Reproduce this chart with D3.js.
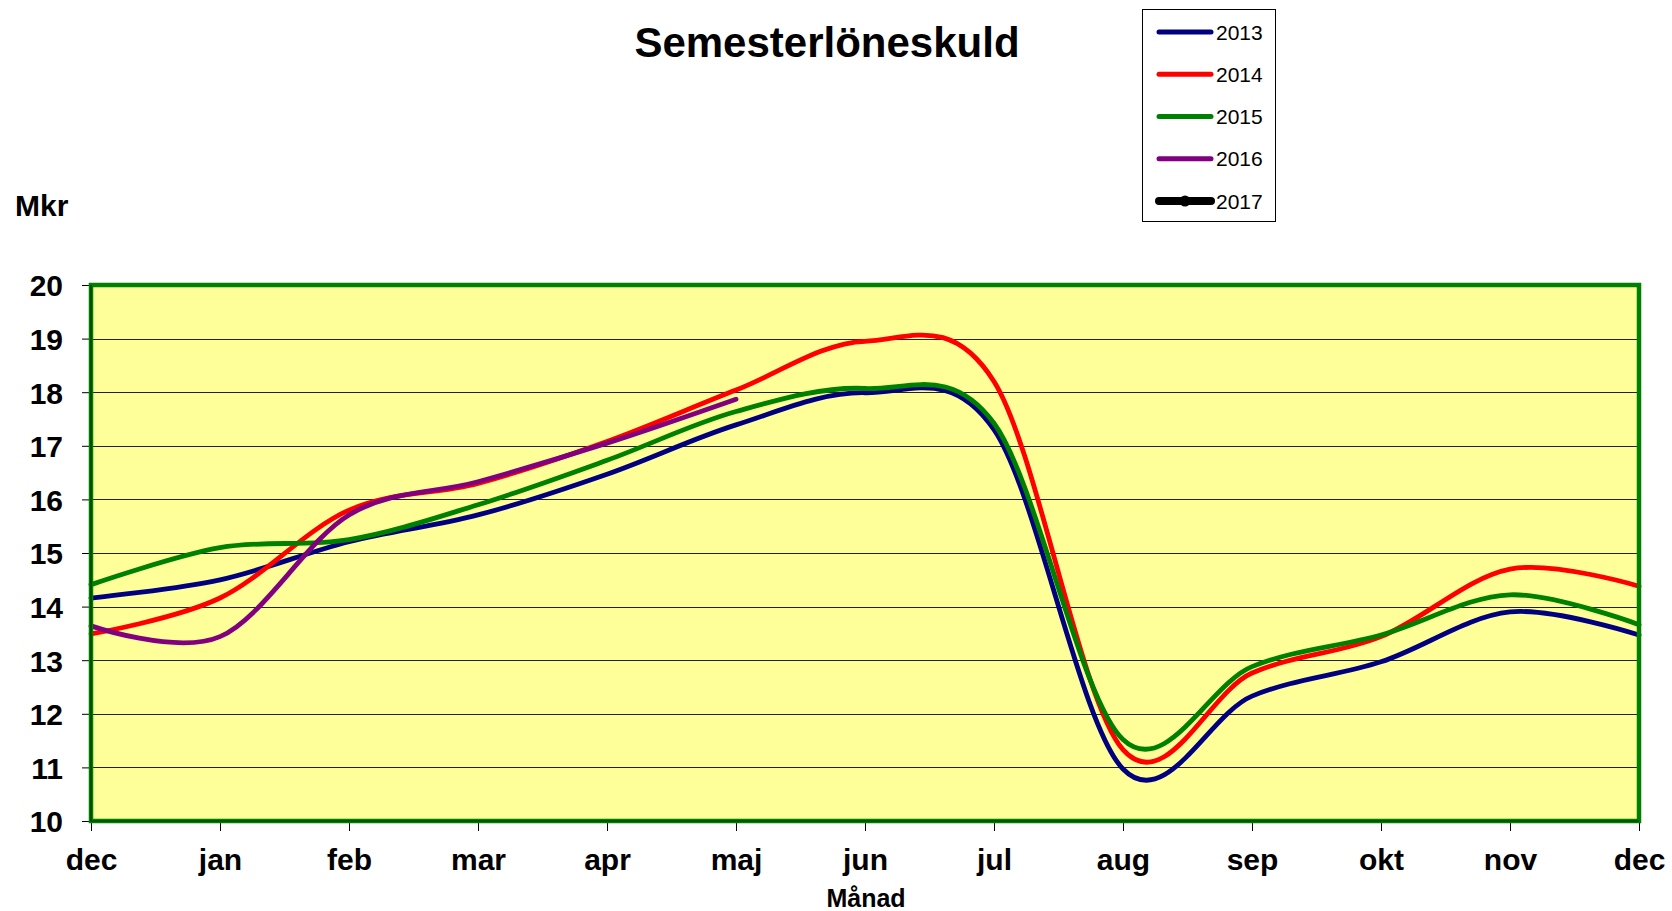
<!DOCTYPE html>
<html>
<head>
<meta charset="utf-8">
<script src="https://cdn.jsdelivr.net/npm/d3@7"></script>
<style>
  body { margin: 0; background: #fff; }
  text { font-family: Arial, "Liberation Sans", sans-serif; }
</style>
</head>
<body>
<script>
// months on x axis (dec appears twice, start and end)
const months = ["dec", "jan", "feb", "mar", "apr", "maj", "jun", "jul", "aug", "sep", "okt", "nov", "dec"];
const yTicks = [10, 11, 12, 13, 14, 15, 16, 17, 18, 19, 20];

const v2013 = [14.16, 14.5, 15.21, 15.71, 16.47, 17.39, 17.99, 17.3, 10.97, 12.33, 12.97, 13.9, 13.47];
const v2014 = [13.49, 14.16, 15.8, 16.3, 17.08, 18.04, 18.95, 18.2, 11.33, 12.76, 13.44, 14.7, 14.38];
const v2015 = [14.41, 15.1, 15.25, 15.9, 16.73, 17.64, 18.07, 17.42, 11.52, 12.88, 13.47, 14.22, 13.66];
const v2016 = [13.64, 13.44, 15.71, 16.33, 17.05, 17.87];
const v2017 = [];

const seriesNames = ["2013", "2014", "2015", "2016", "2017"];
const seriesColors = ["#000080", "#ff0000", "#008000", "#800080", "#000000"];
const seriesValues = [v2013, v2014, v2015, v2016, v2017];

const W = 1672, H = 911;
const plotLeft = 91, plotRight = 1639, plotTop = 285, plotBottom = 821;

const svg = d3.select("body").append("svg")
  .attr("width", W)
  .attr("height", H);

const x = d3.scaleLinear().domain([0, months.length - 1]).range([plotLeft, plotRight]);
const y = d3.scaleLinear().domain([10, 20]).range([plotBottom, plotTop]);

// plot background
svg.append("rect")
  .attr("x", plotLeft).attr("y", plotTop)
  .attr("width", plotRight - plotLeft).attr("height", plotBottom - plotTop)
  .attr("fill", "#ffff99");

// gridlines
svg.append("g")
  .selectAll("line")
  .data(yTicks.filter(d => d > 10 && d < 20))
  .join("line")
  .attr("x1", plotLeft).attr("x2", plotRight)
  .attr("y1", d => Math.round(y(d)) + 0.5).attr("y2", d => Math.round(y(d)) + 0.5)
  .attr("stroke", "#222")
  .attr("stroke-width", 1.2);

// y axis
const yAxis = svg.append("g")
  .attr("transform", `translate(${plotLeft},0)`)
  .call(d3.axisLeft(y).tickValues(yTicks).tickSize(9).tickPadding(19).tickFormat(d3.format("d")));
yAxis.select(".domain").remove();
yAxis.selectAll(".tick line").attr("stroke", "#000");
yAxis.selectAll("text")
  .attr("font-size", 30).attr("font-weight", "bold").attr("fill", "#000")
  .attr("dy", "0.36em");

// x axis
const xAxis = svg.append("g")
  .attr("transform", `translate(0,${plotBottom})`)
  .call(d3.axisBottom(x).tickValues(d3.range(months.length)).tickSize(10).tickPadding(18).tickFormat(i => months[i]));
xAxis.select(".domain").remove();
xAxis.selectAll(".tick line").attr("stroke", "#000");
xAxis.selectAll("text")
  .attr("font-size", 30).attr("font-weight", "bold").attr("fill", "#000");

// series lines
const line = d3.line()
  .x((d, i) => x(i))
  .y(d => y(d))
  .curve(d3.curveCardinal.tension(0));

seriesValues.forEach((vals, k) => {
  if (vals.length < 2) return;
  svg.append("path")
    .datum(vals)
    .attr("d", line)
    .attr("fill", "none")
    .attr("stroke", seriesColors[k])
    .attr("stroke-width", 4.8)
    .attr("stroke-linecap", "round")
    .attr("stroke-linejoin", "round");
});

// plot border
svg.append("rect")
  .attr("x", plotLeft).attr("y", plotTop)
  .attr("width", plotRight - plotLeft).attr("height", plotBottom - plotTop)
  .attr("fill", "none")
  .attr("stroke", "#008000")
  .attr("stroke-width", 4.5);
svg.append("path")
  .attr("d", `M${plotLeft},${plotTop} V${plotBottom} H${plotRight}`)
  .attr("fill", "none")
  .attr("stroke", "#003300")
  .attr("stroke-width", 1.2);

// title
svg.append("text")
  .attr("x", 827).attr("y", 57)
  .attr("text-anchor", "middle")
  .attr("font-size", 42).attr("font-weight", "bold")
  .text("Semesterlöneskuld");

// y label
svg.append("text")
  .attr("x", 15).attr("y", 216)
  .attr("font-size", 30).attr("font-weight", "bold")
  .text("Mkr");

// x label
svg.append("text")
  .attr("x", 866).attr("y", 907)
  .attr("text-anchor", "middle")
  .attr("font-size", 25).attr("font-weight", "bold")
  .text("Månad");

// legend
const legend = svg.append("g");
legend.append("rect")
  .attr("x", 1142.5).attr("y", 9.5)
  .attr("width", 133).attr("height", 212)
  .attr("fill", "#fff").attr("stroke", "#000").attr("stroke-width", 1);

const ly = d3.scalePoint().domain(seriesNames).range([32, 201]);
const items = legend.selectAll("g.item")
  .data(seriesNames)
  .join("g")
  .attr("class", "item")
  .attr("transform", d => `translate(0,${ly(d)})`);

items.append("line")
  .attr("x1", 1159).attr("x2", 1211)
  .attr("stroke", (d, i) => seriesColors[i])
  .attr("stroke-width", (d, i) => i === 4 ? 8 : 5)
  .attr("stroke-linecap", "round");

items.filter((d, i) => i === 4).append("circle")
  .attr("cx", 1185).attr("r", 5.5)
  .attr("fill", "#000");

items.append("text")
  .attr("x", 1216).attr("dy", "0.36em")
  .attr("font-size", 21)
  .attr("fill", "#000")
  .text(d => d);
</script>
</body>
</html>
